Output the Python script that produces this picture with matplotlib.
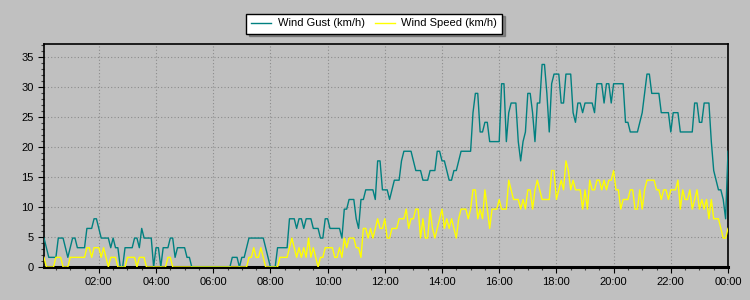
import numpy as np
import matplotlib
matplotlib.use("Agg")
import matplotlib.pyplot as plt
from matplotlib.ticker import MultipleLocator, FuncFormatter

plt.rcParams['font.family'] = ['Liberation Sans', 'DejaVu Sans']
plt.rcParams['font.size'] = 8

# readings every 5 minutes from 00:05, logged in whole mph
MPH_TO_KMH = 1.609
gust_mph = [
    3, 2, 1, 1, 1, 1, 3, 3, 3, 2, 1, 2,
    3, 3, 2, 2, 2, 2, 4, 4, 4, 5, 5, 4,
    3, 3, 3, 3, 2, 3, 2, 2, 0, 0, 2, 2,
    2, 2, 3, 3, 2, 4, 3, 3, 3, 3, 0, 2,
    2, 0, 2, 2, 2, 3, 3, 1, 2, 2, 2, 2,
    1, 1, 0, 0, 0, 0, 0, 0, 0, 0, 0, 0,
    0, 0, 0, 0, 0, 0, 0, 1, 1, 1, 0, 1,
    1, 2, 3, 3, 3, 3, 3, 3, 3, 2, 1, 0,
    0, 0, 2, 2, 2, 2, 2, 5, 5, 5, 4, 5,
    5, 4, 5, 5, 5, 4, 4, 4, 3, 3, 5, 5,
    4, 4, 4, 4, 4, 3, 6, 6, 7, 7, 7, 5,
    4, 7, 7, 8, 8, 8, 8, 7, 11, 11, 8, 8,
    8, 7, 8, 9, 9, 9, 11, 12, 12, 12, 12, 11,
    10, 10, 10, 9, 9, 9, 10, 10, 10, 12, 12, 11,
    11, 10, 9, 9, 10, 10, 11, 12, 12, 12, 12, 12,
    16, 18, 18, 14, 14, 15, 15, 13, 13, 13, 13, 13,
    19, 19, 13, 16, 17, 17, 17, 13, 11, 13, 14, 18,
    18, 16, 13, 17, 17, 21, 21, 18, 14, 19, 20, 20,
    20, 17, 17, 20, 20, 20, 16, 15, 17, 17, 16, 17,
    17, 17, 17, 16, 19, 19, 19, 17, 19, 19, 17, 19,
    19, 19, 19, 19, 15, 15, 14, 14, 14, 14, 15, 16,
    18, 20, 20, 18, 18, 18, 18, 16, 16, 16, 16, 14,
    16, 16, 16, 14, 14, 14, 14, 14, 14, 17, 17, 15,
    15, 17, 17, 17, 13, 10, 9, 8, 8, 7, 5, 12,
]
speed_mph = [
    1, 0, 0, 0, 0, 1, 1, 1, 0, 0, 0, 1,
    1, 1, 1, 1, 1, 1, 2, 2, 1, 2, 2, 2,
    1, 2, 1, 0, 1, 1, 1, 0, 0, 0, 0, 1,
    1, 1, 1, 0, 1, 1, 1, 0, 0, 0, 0, 0,
    0, 0, 0, 0, 1, 1, 0, 0, 0, 0, 0, 0,
    0, 0, 0, 0, 0, 0, 0, 0, 0, 0, 0, 0,
    0, 0, 0, 0, 0, 0, 0, 0, 0, 0, 0, 0,
    0, 0, 1, 1, 2, 1, 1, 2, 1, 0, 0, 0,
    0, 0, 0, 1, 1, 1, 1, 2, 3, 2, 1, 2,
    1, 2, 1, 3, 1, 2, 1, 0, 1, 1, 2, 2,
    2, 2, 1, 1, 2, 1, 3, 2, 3, 3, 3, 2,
    2, 1, 4, 4, 3, 4, 3, 4, 5, 4, 4, 5,
    3, 3, 4, 4, 4, 5, 5, 5, 6, 4, 5, 5,
    6, 6, 3, 5, 3, 3, 6, 4, 3, 4, 5, 6,
    4, 5, 4, 5, 4, 3, 5, 6, 6, 6, 5, 6,
    8, 8, 5, 6, 5, 8, 6, 4, 6, 6, 6, 7,
    6, 6, 6, 9, 8, 7, 7, 7, 6, 7, 6, 8,
    8, 6, 8, 9, 8, 7, 7, 7, 7, 10, 10, 7,
    8, 9, 8, 11, 10, 8, 9, 8, 8, 8, 6, 8,
    6, 9, 8, 8, 9, 9, 8, 9, 8, 9, 9, 10,
    8, 8, 6, 7, 7, 7, 8, 8, 6, 6, 8, 6,
    8, 9, 9, 9, 9, 8, 8, 7, 8, 8, 7, 8,
    8, 8, 9, 6, 8, 7, 7, 8, 6, 7, 8, 6,
    7, 6, 7, 5, 7, 5, 5, 5, 4, 3, 3, 4,
]

gust = np.array(gust_mph) * MPH_TO_KMH
speed = np.array(speed_mph) * MPH_TO_KMH
t_gust = np.arange(1, len(gust) + 1) * 5 / 60.0
t_speed = np.arange(1, len(speed) + 1) * 5 / 60.0

bg = '#c0c0c0'
fig = plt.figure(figsize=(7.5, 3), dpi=100, facecolor=bg)
ax = fig.add_axes([44 / 750, 1 - 267 / 300, 684 / 750, 223 / 300])
ax.set_facecolor(bg)

ax.plot(t_gust, gust, color='#008080', lw=1.0, label='Wind Gust (km/h)', zorder=3)
ax.plot(t_speed, speed, color='#ffff00', lw=1.0, label='Wind Speed (km/h)', zorder=3)

ax.set_xlim(5 / 60.0, 24)
ax.set_ylim(0, 37.2)
ax.xaxis.set_major_locator(MultipleLocator(2))
ax.xaxis.set_minor_locator(MultipleLocator(0.5))
ax.xaxis.set_major_formatter(FuncFormatter(lambda h, p: f"{int(round(h)) % 24:02d}:00"))
ax.yaxis.set_major_locator(MultipleLocator(5))
ax.yaxis.set_minor_locator(MultipleLocator(1))

ax.grid(True, which='major', color='#8c8c8c', linestyle=(0, (1, 2)), lw=0.8)
ax.tick_params(which='major', direction='out', length=4, width=0.8, color='black', labelsize=8)
ax.tick_params(which='minor', direction='out', length=2, width=0.8, color='#404040')

for side in ['left', 'top', 'right']:
    ax.spines[side].set_linewidth(1.2)
    ax.spines[side].set_color('black')
ax.spines['bottom'].set_linewidth(2.2)
ax.spines['bottom'].set_color('black')

leg = fig.legend(loc='center', bbox_to_anchor=(374 / 750, 1 - 23.5 / 300), ncol=2,
                 frameon=True, fancybox=False, shadow=True, fontsize=8,
                 handlelength=1.8, handletextpad=0.6, columnspacing=0.9,
                 borderpad=0.45, borderaxespad=0)
leg.get_frame().set_edgecolor('black')
leg.get_frame().set_linewidth(1.0)
leg.get_frame().set_facecolor('white')

plt.savefig('out.png', dpi=100, facecolor=bg)
